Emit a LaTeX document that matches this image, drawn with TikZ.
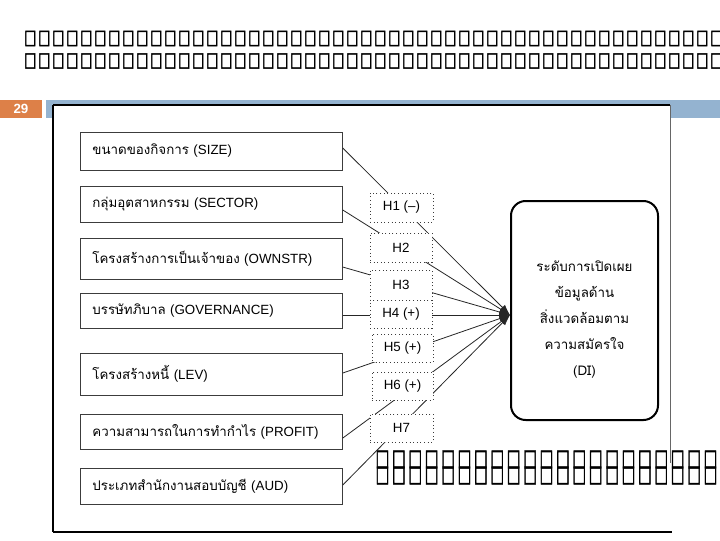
\documentclass[tikz,border=0pt]{standalone}
\usepackage{fontspec}
\usepackage{graphicx}
\setmainfont{Liberation Sans}
\newfontfamily\thai[Script=Thai]{Loma}
\newfontfamily\glyphfont[FakeBold=2.5]{DejaVu Sans Bold}
\usetikzlibrary{arrows.meta}
\definecolor{slideblue}{RGB}{148,179,208}
\definecolor{slideorange}{RGB}{221,128,72}
\definecolor{scangray}{RGB}{60,60,60}
\newcommand{\gaprow}[2]{\foreach \k in {1,...,#1}{\makebox[#2]{\scalebox{0.68}[1.08]{□}}}}

\begin{document}
\begin{tikzpicture}[x=0.75pt,y=-0.75pt,
        factor/.style={draw=scangray,line width=0.6pt,anchor=west,text width=178.5pt,inner xsep=9pt,inner ysep=0pt,font=\fontsize{10}{12}\selectfont},
        hyp/.style={draw=scangray,dotted,line width=0.7pt,fill=white,inner sep=0pt,font=\fontsize{10}{12}\selectfont},
        link/.style={draw=black!85,line width=0.6pt,-{Latex[length=8pt,width=5.5pt]}},
        gaps/.style={anchor=west,inner sep=0pt,font=\glyphfont\fontsize{#1}{#1}\selectfont}]
    \useasboundingbox (0,0) rectangle (720,540);
    % slide header
    \fill[slideblue] (46,100) rectangle (720,118);
    \node[fill=slideorange,minimum width=31.5pt,minimum height=13.5pt,inner sep=0pt,text=white,font=\bfseries\fontsize{10}{12}\selectfont] (num) at (21,109) {29};
    \node[gaps=14] (title1) at (23,38.5) {\gaprow{52}{10.5pt}};
    \node[gaps=14] (title2) at (23,61) {\gaprow{52}{10.5pt}};

    % scanned figure
    \fill[white] (53,105) rectangle (670,532);
    \draw[line width=1.2pt] (670,105) -- (53,105);
    \draw[line width=1.6pt] (53,105) -- (53,532);
    \draw[line width=0.8pt] (53,532) -- (672,532);
    \draw[line width=0.6pt,draw=black!60] (670,105) -- (670,463);

    \node[factor,minimum height=28.5pt] (s1) at (80,151) {{\thai ขนาดของกิจการ} (SIZE)};
    \node[factor,minimum height=27pt] (s2) at (80,204) {{\thai กลุ่มอุตสาหกรรม} (SECTOR)};
    \node[factor,minimum height=30.75pt] (s3) at (80,258.5) {{\thai โครงสร้างการเป็นเจ้าของ} (OWNSTR)};
    \node[factor,minimum height=26.25pt] (s4) at (80,310.5) {{\thai บรรษัทภิบาล} (GOVERNANCE)};
    \node[factor,minimum height=31.5pt] (s5) at (80,374) {{\thai โครงสร้างหนี้} (LEV)};
    \node[factor,minimum height=26.25pt] (s6) at (80,431.5) {{\thai ความสามารถในการทำกำไร} (PROFIT)};
    \node[factor,minimum height=27pt] (s7) at (80,486) {{\thai ประเภทสำนักงานสอบบัญชี} (AUD)};

    \node[draw,line width=1.5pt,rounded corners=11pt,minimum width=110.25pt,minimum height=164.25pt] (di) at (584.5,310.5) {};
    \node[align=center,font=\thai\fontsize{10}{19.5}\selectfont] (ditext) at ([yshift=-7pt]di.center) {ระดับการเปิดเผย\\ข้อมูลด้าน\\สิ่งแวดล้อมตาม\\ความสมัครใจ\\(DI)};

    \foreach \s/\dy in {s1/2.25pt,s2/-4.5pt,s3/-6.4pt,s4/-3.4pt,s5/0.75pt,s6/-4.9pt,s7/0.75pt}
        \draw[link] ([yshift=\dy]\s.east) -- ([yshift=-3.4pt]di.west);

    \node[hyp,minimum width=47.25pt,minimum height=21.75pt] (h1) at (401.5,207.5) {H1 (–)};
    \node[hyp,minimum width=46.5pt,minimum height=21.75pt] (h2) at (401,247.5) {H2};
    \node[hyp,minimum width=46.5pt,minimum height=22.5pt] (h3) at (401,285) {H3};
    \node[hyp,minimum width=46.5pt,minimum height=21pt] (h4) at (401,314) {H4 (+)};
    \node[hyp,minimum width=45.75pt,minimum height=21pt] (h5) at (402.5,348) {H5 (+)};
    \node[hyp,minimum width=45.75pt,minimum height=21pt] (h6) at (402.5,386) {H6 (+)};
    \node[hyp,minimum width=47.25pt,minimum height=21pt] (h7) at (401.5,428) {H7};

    % caption over the figure
    \node[gaps=16] (note1) at (374,459.5) {\gaprow{22}{12.3pt}};
    \node[gaps=16] (note2) at (374,475.5) {\gaprow{22}{12.3pt}};
\end{tikzpicture}
\end{document}
